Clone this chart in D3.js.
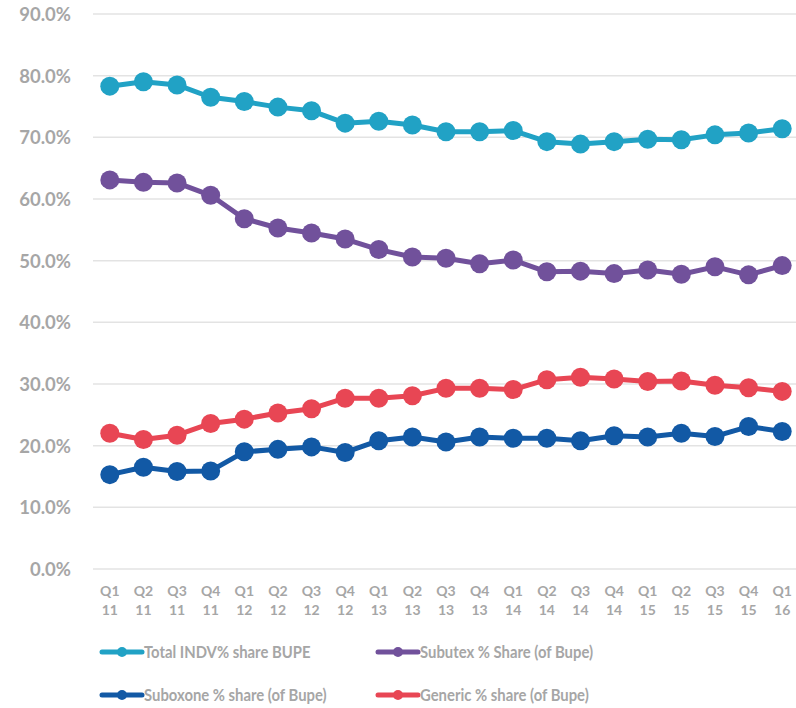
<!DOCTYPE html>
<html>
<head>
<meta charset="utf-8">
<script src="https://cdn.jsdelivr.net/npm/d3@7"></script>
<style>
  body { margin: 0; background: #fff; }
  text { font-family: Lato, "Open Sans", sans-serif; font-weight: bold; fill: #a6a6a6; }
</style>
</head>
<body>
<div id="chart"></div>
<script>
// quarters (two-line labels)
var quarters = ["Q1 11","Q2 11","Q3 11","Q4 11","Q1 12","Q2 12","Q3 12","Q4 12","Q1 13","Q2 13","Q3 13",
  "Q4 13","Q1 14","Q2 14","Q3 14","Q4 14","Q1 15","Q2 15","Q3 15","Q4 15","Q1 16"];

var totalIndv = [78.3,79.0,78.5,76.5,75.8,74.9,74.3,72.3,72.6,72.0,70.9,70.9,71.1,69.3,68.9,69.3,69.7,69.6,70.4,70.7,71.4];
var subutex   = [63.1,62.7,62.6,60.6,56.8,55.3,54.5,53.5,51.8,50.6,50.4,49.5,50.1,48.2,48.3,47.9,48.5,47.8,49.0,47.7,49.2];
var suboxone  = [15.3,16.5,15.8,15.9,19.0,19.4,19.8,18.9,20.8,21.4,20.6,21.4,21.2,21.2,20.8,21.6,21.4,22.0,21.5,23.1,22.3];
var generic   = [22.0,21.0,21.7,23.6,24.3,25.3,26.0,27.7,27.7,28.1,29.3,29.3,29.1,30.7,31.1,30.8,30.4,30.5,29.8,29.4,28.8];

var yTicks = [0,10,20,30,40,50,60,70,80,90];

var series = [
  { name: "Total INDV% share BUPE", values: totalIndv, color: "#21a2c5" },
  { name: "Subutex % Share (of Bupe)", values: subutex, color: "#71519b" },
  { name: "Suboxone % share (of Bupe)", values: suboxone, color: "#1259a5" },
  { name: "Generic % share (of Bupe)", values: generic, color: "#e84654" }
];

var W = 796, H = 708;
var svg = d3.select("#chart").append("svg").attr("width", W).attr("height", H);

var x = d3.scaleBand().domain(quarters).range([93, 799]);
var y = d3.scaleLinear().domain([0, 90]).range([569, 14]);

// gridlines
svg.append("g").selectAll("line").data(yTicks).enter().append("line")
  .attr("x1", 93).attr("x2", W)
  .attr("y1", function (d) { return y(d); }).attr("y2", function (d) { return y(d); })
  .attr("stroke", "#e3e3e3").attr("stroke-width", 1.5);

// y axis labels
var yAxis = svg.append("g").attr("transform", "translate(71,0)")
  .call(d3.axisLeft(y).tickValues(yTicks).tickSize(0).tickPadding(0)
    .tickFormat(function (d) { return d.toFixed(1) + "%"; }));
yAxis.select(".domain").remove();
yAxis.selectAll("text").style("font-size", "18.5px").attr("dy", "0.35em")
  .style("font-family", "Lato, sans-serif").attr("fill", "#a6a6a6");

// x axis labels
var xAxis = svg.append("g").attr("transform", "translate(0,580)")
  .call(d3.axisBottom(x).tickSize(0).tickFormat(""));
xAxis.select(".domain").remove();
xAxis.selectAll(".tick").each(function (d) {
  var parts = d.split(" ");
  var t = d3.select(this).append("text").attr("text-anchor", "middle").style("font-size", "14px");
  t.append("tspan").attr("x", 0).attr("y", 15.5).text(parts[0]);
  t.append("tspan").attr("x", 0).attr("y", 35).text(parts[1]);
});

var cx = function (i) { return x(quarters[i]) + x.bandwidth() / 2; };

var line = d3.line()
  .x(function (d, i) { return cx(i); })
  .y(function (d) { return y(d); });

series.forEach(function (s) {
  var g = svg.append("g");
  g.append("path").datum(s.values)
    .attr("d", line).attr("fill", "none")
    .attr("stroke", s.color).attr("stroke-width", 5).attr("stroke-linejoin", "round");
  g.selectAll("circle").data(s.values).enter().append("circle")
    .attr("cx", function (d, i) { return cx(i); })
    .attr("cy", function (d) { return y(d); })
    .attr("r", 9.5).attr("fill", s.color);
});

// legend
var legendPos = [[102, 652], [378, 652], [102, 695], [378, 695]];
series.forEach(function (s, i) {
  var p = legendPos[i];
  var g = svg.append("g").attr("transform", "translate(" + p[0] + "," + p[1] + ")");
  g.append("line").attr("x1", 0).attr("x2", 40).attr("y1", 0).attr("y2", 0)
    .attr("stroke", s.color).attr("stroke-width", 5).attr("stroke-linecap", "round");
  g.append("circle").attr("cx", 20).attr("cy", 0).attr("r", 5).attr("fill", s.color);
  g.append("text").attr("transform", "translate(42,0) scale(0.9,1)").attr("dy", "0.36em")
    .style("font-size", "16.5px").text(s.name);
});
</script>
</body>
</html>
